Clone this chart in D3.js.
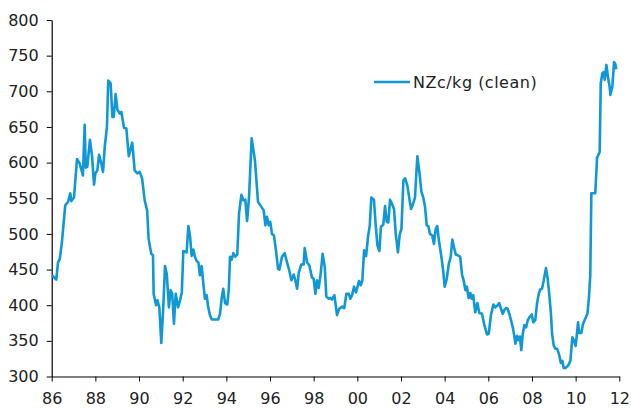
<!DOCTYPE html>
<html>
<head>
<meta charset="utf-8">
<script src="https://cdn.jsdelivr.net/npm/d3@7"></script>
<style>
  body { margin: 0; background: #fff; }
  svg { display: block; font-family: "DejaVu Sans", Verdana, sans-serif; }
</style>
</head>
<body>
<svg id="chart" width="631" height="410"></svg>
<script>
// Wool price, NZ cents per kg (clean)
const years = [
  1986.01, 1986.21, 1986.29, 1986.37, 1986.47, 1986.62, 1986.75, 1986.85, 1986.90, 1987.02,
  1987.16, 1987.28, 1987.43, 1987.51, 1987.56, 1987.63, 1987.75, 1987.85, 1987.94, 1988.00,
  1988.09, 1988.17, 1988.27, 1988.35, 1988.43, 1988.53, 1988.59, 1988.70, 1988.78, 1988.84,
  1988.93, 1989.01, 1989.12, 1989.19, 1989.27, 1989.31, 1989.42, 1989.53, 1989.62, 1989.69,
  1989.80, 1989.92, 1990.03, 1990.14, 1990.26, 1990.37, 1990.44, 1990.56, 1990.64, 1990.67,
  1990.78, 1990.84, 1990.93, 1991.02, 1991.11, 1991.19, 1991.27, 1991.37, 1991.45, 1991.52,
  1991.60, 1991.68, 1991.79, 1991.88, 1991.96, 1992.03, 1992.11, 1992.18, 1992.26, 1992.34,
  1992.41, 1992.49, 1992.56, 1992.64, 1992.72, 1992.79, 1992.87, 1992.94, 1993.02, 1993.10,
  1993.17, 1993.25, 1993.33, 1993.63, 1993.71, 1993.79, 1993.86, 1993.94, 1994.04, 1994.11,
  1994.17, 1994.25, 1994.32, 1994.41, 1994.50, 1994.58, 1994.69, 1994.78, 1994.87, 1994.95,
  1995.04, 1995.16, 1995.31, 1995.45, 1995.56, 1995.71, 1995.79, 1995.86, 1995.94, 1996.01,
  1996.09, 1996.18, 1996.28, 1996.37, 1996.43, 1996.55, 1996.67, 1996.78, 1996.88, 1996.98,
  1997.09, 1997.16, 1997.24, 1997.32, 1997.43, 1997.54, 1997.59, 1997.70, 1997.80, 1997.92,
  1998.00, 1998.08, 1998.15, 1998.23, 1998.32, 1998.41, 1998.51, 1998.58, 1998.69, 1998.76,
  1998.84, 1998.95, 1999.07, 1999.17, 1999.30, 1999.40, 1999.50, 1999.61, 1999.68, 1999.76,
  1999.85, 1999.94, 2000.08, 2000.16, 2000.23, 2000.31, 2000.40, 2000.49, 2000.57, 2000.64,
  2000.76, 2000.84, 2000.92, 2001.01, 2001.08, 2001.19, 2001.27, 2001.35, 2001.42, 2001.50,
  2001.59, 2001.68, 2001.76, 2001.86, 2001.94, 2002.02, 2002.11, 2002.19, 2002.29, 2002.37,
  2002.46, 2002.55, 2002.64, 2002.75, 2002.86, 2002.93, 2003.02, 2003.10, 2003.18, 2003.25,
  2003.33, 2003.43, 2003.51, 2003.59, 2003.66, 2003.74, 2003.85, 2003.93, 2004.00, 2004.09,
  2004.19, 2004.28, 2004.35, 2004.43, 2004.51, 2004.60, 2004.71, 2004.80, 2004.87, 2004.95,
  2005.02, 2005.10, 2005.18, 2005.24, 2005.31, 2005.40, 2005.50, 2005.59, 2005.71, 2005.82,
  2005.94, 2006.02, 2006.12, 2006.23, 2006.32, 2006.43, 2006.50, 2006.58, 2006.66, 2006.73,
  2006.81, 2006.89, 2006.96, 2007.04, 2007.12, 2007.19, 2007.24, 2007.32, 2007.39, 2007.45,
  2007.51, 2007.58, 2007.65, 2007.73, 2007.81, 2007.88, 2007.99, 2008.06, 2008.15, 2008.23,
  2008.31, 2008.38, 2008.46, 2008.54, 2008.64, 2008.72, 2008.79, 2008.87, 2008.92, 2009.00,
  2009.07, 2009.15, 2009.23, 2009.27, 2009.32, 2009.39, 2009.45, 2009.53, 2009.65, 2009.76,
  2009.85, 2009.93, 2010.00, 2010.06, 2010.11, 2010.16, 2010.26, 2010.34, 2010.44, 2010.54,
  2010.61, 2010.67, 2010.72, 2010.83, 2010.90, 2010.98, 2011.03, 2011.10, 2011.15, 2011.22,
  2011.29, 2011.33, 2011.41, 2011.48, 2011.56, 2011.59, 2011.68, 2011.76, 2011.82, 2011.86
];
const prices = [
  442, 436, 460, 465, 489, 540, 545, 557, 546, 551,
  605, 599, 582, 653, 593, 594, 632, 608, 569, 585,
  589, 611, 599, 587, 622, 650, 715, 711, 664, 664,
  696, 674, 669, 671, 657, 649, 648, 609, 620, 628,
  589, 585, 587, 578, 547, 533, 493, 472, 470, 416,
  400, 407, 397, 347, 397, 455, 444, 397, 421, 416,
  374, 416, 397, 407, 418, 476, 475, 474, 511, 496,
  469, 478, 468, 462, 460, 442, 455, 432, 409, 414,
  397, 386, 380, 380, 388, 411, 423, 403, 401, 421,
  468, 464, 473, 468, 471, 528, 555, 547, 548, 518,
  552, 634, 603, 545, 540, 533, 512, 524, 512, 517,
  500, 498, 475, 451, 450, 468, 473, 460, 449, 435,
  443, 435, 423, 446, 457, 457, 480, 460, 456, 439,
  437, 416, 435, 424, 444, 472, 453, 412, 409, 410,
  408, 414, 386, 395, 398, 396, 416, 416, 409, 414,
  426, 418, 434, 428, 435, 477, 469, 496, 512, 551,
  548, 513, 484, 476, 510, 513, 539, 517, 516, 548,
  542, 535, 500, 474, 499, 507, 575, 578, 568, 552,
  535, 542, 551, 609, 582, 560, 551, 538, 512, 511,
  500, 498, 486, 507, 511, 490, 468, 449, 426, 436,
  458, 468, 492, 481, 471, 470, 468, 442, 435, 421,
  426, 410, 417, 409, 414, 390, 403, 389, 388, 372,
  359, 360, 386, 401, 397, 400, 403, 395, 388, 393,
  396, 395, 388, 379, 369, 357, 346, 357, 351, 356,
  337, 360, 372, 369, 379, 383, 387, 376, 379, 402,
  416, 422, 423, 435, 452, 437, 416, 388, 360, 343,
  339, 339, 332, 327, 319, 322, 312, 312, 315, 322,
  355, 350, 343, 360, 376, 361, 361, 374, 381, 388,
  411, 442, 557, 557, 557, 607, 610, 615, 711, 725,
  727, 716, 737, 720, 706, 695, 706, 741, 738, 731
];
const xTicks = d3.range(1986, 2013, 2);
const yTicks = d3.range(300, 801, 50);
const seriesName = "NZc/kg (clean)";

const data = years.map((y, i) => ({ year: y, value: prices[i] }));

const lineColor = "#0f98d6";
const textColor = "#222";

const svg = d3.select("#chart");
const margin = { top: 20, right: 11.7, bottom: 33, left: 51.7 };
const width = 631, height = 410;

const x = d3.scaleLinear()
  .domain([1986, 2012])
  .range([margin.left, width - margin.right]);

const y = d3.scaleLinear()
  .domain([300, 800])
  .range([height - margin.bottom - 0.5, margin.top]);

// x axis
const xAxis = svg.append("g")
  .attr("transform", `translate(0,${y(300)})`)
  .call(d3.axisBottom(x)
    .tickValues(xTicks)
    .tickFormat(d => String(d % 100).padStart(2, "0"))
    .tickSize(5)
    .tickSizeOuter(0)
    .tickPadding(11));

// y axis
const yAxis = svg.append("g")
  .attr("transform", `translate(${x(1986)},0)`)
  .call(d3.axisLeft(y)
    .tickValues(yTicks)
    .tickSize(5)
    .tickSizeOuter(0)
    .tickPadding(8));

[xAxis, yAxis].forEach(g => {
  g.select(".domain").attr("stroke", "#000").attr("stroke-width", 1.2);
  g.selectAll(".tick line").attr("stroke", "#000");
  g.selectAll(".tick text")
    .attr("fill", textColor)
    .style("font-size", "16px")
    .style("font-family", "'DejaVu Sans', Verdana, sans-serif");
});

// series line
const line = d3.line()
  .x(d => x(d.year))
  .y(d => y(d.value));

svg.append("path")
  .datum(data)
  .attr("fill", "none")
  .attr("stroke", lineColor)
  .attr("stroke-width", 2.6)
  .attr("stroke-linejoin", "round")
  .attr("d", line);

// legend
const legend = svg.append("g").attr("transform", "translate(374,82)");
legend.append("line")
  .attr("x1", 0).attr("x2", 36)
  .attr("stroke", lineColor)
  .attr("stroke-width", 2.6);
legend.append("text")
  .attr("x", 39)
  .attr("dy", "0.36em")
  .attr("fill", textColor)
  .style("font-size", "16px")
  .style("letter-spacing", "0.5px")
  .text(seriesName);
</script>
</body>
</html>
